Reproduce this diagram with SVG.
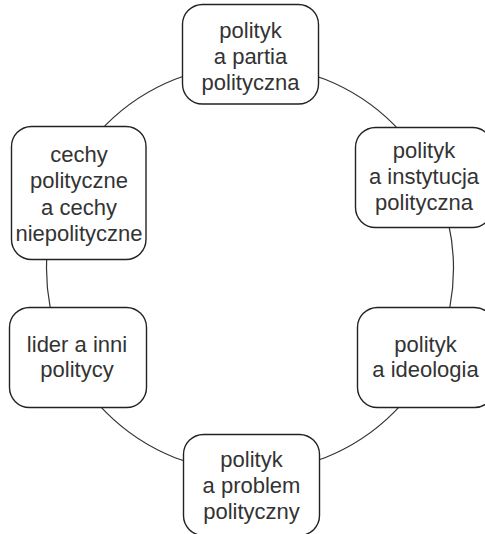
<svg xmlns="http://www.w3.org/2000/svg" width="485" height="534" viewBox="0 0 485 534">
<style>
.box{fill:#fff;stroke:#222;stroke-width:1.4}
.t{font-family:"Liberation Sans",Arial,sans-serif;font-size:22px;fill:#333;text-anchor:middle}
.c{fill:none;stroke:#333;stroke-width:1.2}
</style>
<rect width="485" height="534" fill="#fff"/>
<g id="connectors">
<circle class="c" cx="250" cy="268.5" r="203.5"/>
</g>
<g id="n1">
<rect class="box" x="182.5" y="4.5" width="136" height="99.5" rx="20"/>
<text class="t" x="250.5" y="37.5">polityk</text>
<text class="t" x="250.5" y="64">a partia</text>
<text class="t" x="250.5" y="90">polityczna</text>
</g>
<g id="n2">
<rect class="box" x="355.5" y="127.5" width="137" height="100" rx="20"/>
<text class="t" x="424" y="157.5">polityk</text>
<text class="t" x="424" y="184">a instytucja</text>
<text class="t" x="424" y="210">polityczna</text>
</g>
<g id="n3">
<rect class="box" x="357.5" y="307.5" width="137" height="100" rx="20"/>
<text class="t" x="425.5" y="351.5">polityk</text>
<text class="t" x="425.5" y="377">a ideologia</text>
</g>
<g id="n4">
<rect class="box" x="183.5" y="434.5" width="136" height="101" rx="20"/>
<text class="t" x="251.5" y="467">polityk</text>
<text class="t" x="251.5" y="493">a problem</text>
<text class="t" x="251.5" y="519">polityczny</text>
</g>
<g id="n5">
<rect class="box" x="9.5" y="307.5" width="137" height="100" rx="20"/>
<text class="t" x="77" y="351.5">lider a inni</text>
<text class="t" x="77" y="377">politycy</text>
</g>
<g id="n6">
<rect class="box" x="11.5" y="126.5" width="134.5" height="133" rx="20"/>
<text class="t" x="79" y="161.5">cechy</text>
<text class="t" x="79" y="188">polityczne</text>
<text class="t" x="79" y="214.5">a cechy</text>
<text class="t" x="79" y="241">niepolityczne</text>
</g>
</svg>
